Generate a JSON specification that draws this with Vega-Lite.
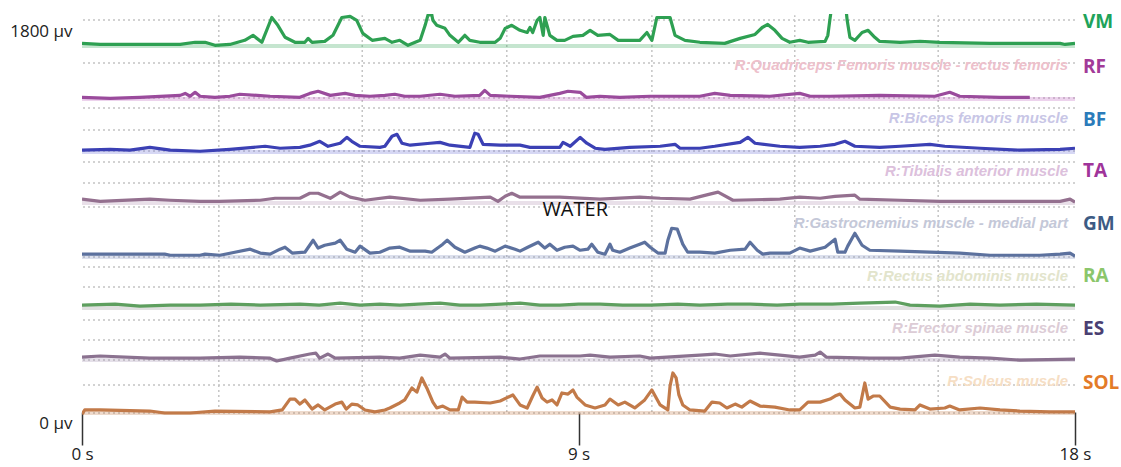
{
  "$schema": "https://vega.github.io/schema/vega-lite/v6.json",
  "autosize": {"type": "none"},
  "width": 993,
  "height": 409,
  "padding": {"left": 82, "top": 14, "right": 46, "bottom": 44},
  "background": "white",
  "config": {"view": {"stroke": null}},
  "datasets": {
    "hgrid": [{"v":1852},{"v":1655},{"v":1494},{"v":1448},{"v":1347},{"v":1250},{"v":1200},{"v":1103},{"v":993},{"v":763},{"v":717},{"v":625},{"v":473},{"v":382},{"v":290},{"v":175},{"v":46}],
    "vgrid": [{"t":2.48},{"t":5.08},{"t":7.70},{"t":10.33},{"t":12.92},{"t":15.52}],
    "base": [{"ch":"VM","v":1733},{"ch":"RF","v":1489},{"ch":"BF","v":1246},{"ch":"TA","v":1011},{"ch":"GM","v":763},{"ch":"RA","v":529},{"ch":"ES","v":290},{"ch":"SOL","v":46}],
    "names": [
      {"ch":"RF","name":"R:Quadriceps Femoris muscle - rectus femoris","v":1644},
      {"ch":"BF","name":"R:Biceps femoris muscle","v":1401},
      {"ch":"TA","name":"R:Tibialis anterior muscle","v":1157},
      {"ch":"GM","name":"R:Gastrocnemius muscle - medial part","v":918},
      {"ch":"RA","name":"R:Rectus abdominis muscle","v":675},
      {"ch":"ES","name":"R:Erector spinae muscle","v":436},
      {"ch":"SOL","name":"R:Soleus muscle","v":193}
    ],
    "labels": [
      {"ch":"VM","v":1843},{"ch":"RF","v":1636},{"ch":"BF","v":1391},{"ch":"TA","v":1157},
      {"ch":"GM","v":914},{"ch":"RA","v":675},{"ch":"ES","v":432},{"ch":"SOL","v":184}
    ],
    "note": [{"t":8.94,"v":978,"text":"WATER"}],
    "emg": [
      {"ch":"VM","t":0,"v":1745},{"ch":"VM","t":0.33,"v":1740},{"ch":"VM","t":1.78,"v":1740},{"ch":"VM","t":2.05,"v":1750},{"ch":"VM","t":2.23,"v":1750},{"ch":"VM","t":2.41,"v":1736},{"ch":"VM","t":2.68,"v":1740},{"ch":"VM","t":2.95,"v":1759},{"ch":"VM","t":3.10,"v":1782},{"ch":"VM","t":3.26,"v":1750},{"ch":"VM","t":3.44,"v":1864},{"ch":"VM","t":3.55,"v":1828},{"ch":"VM","t":3.68,"v":1773},{"ch":"VM","t":3.86,"v":1750},{"ch":"VM","t":4.04,"v":1750},{"ch":"VM","t":4.10,"v":1768},{"ch":"VM","t":4.17,"v":1750},{"ch":"VM","t":4.40,"v":1754},{"ch":"VM","t":4.55,"v":1782},{"ch":"VM","t":4.71,"v":1864},{"ch":"VM","t":4.86,"v":1869},{"ch":"VM","t":4.98,"v":1851},{"ch":"VM","t":5.09,"v":1791},{"ch":"VM","t":5.26,"v":1759},{"ch":"VM","t":5.49,"v":1768},{"ch":"VM","t":5.62,"v":1750},{"ch":"VM","t":5.76,"v":1759},{"ch":"VM","t":5.91,"v":1736},{"ch":"VM","t":6.04,"v":1750},{"ch":"VM","t":6.13,"v":1759},{"ch":"VM","t":6.22,"v":1828},{"ch":"VM","t":6.27,"v":1874},{"ch":"VM","t":6.34,"v":1878},{"ch":"VM","t":6.36,"v":1851},{"ch":"VM","t":6.43,"v":1828},{"ch":"VM","t":6.58,"v":1814},{"ch":"VM","t":6.67,"v":1782},{"ch":"VM","t":6.82,"v":1750},{"ch":"VM","t":6.94,"v":1782},{"ch":"VM","t":7.03,"v":1759},{"ch":"VM","t":7.21,"v":1750},{"ch":"VM","t":7.49,"v":1750},{"ch":"VM","t":7.58,"v":1768},{"ch":"VM","t":7.67,"v":1814},{"ch":"VM","t":7.79,"v":1828},{"ch":"VM","t":7.94,"v":1805},{"ch":"VM","t":8.07,"v":1795},{"ch":"VM","t":8.12,"v":1818},{"ch":"VM","t":8.17,"v":1795},{"ch":"VM","t":8.25,"v":1851},{"ch":"VM","t":8.30,"v":1864},{"ch":"VM","t":8.36,"v":1782},{"ch":"VM","t":8.39,"v":1864},{"ch":"VM","t":8.48,"v":1782},{"ch":"VM","t":8.61,"v":1759},{"ch":"VM","t":8.75,"v":1759},{"ch":"VM","t":8.90,"v":1777},{"ch":"VM","t":9.08,"v":1782},{"ch":"VM","t":9.21,"v":1805},{"ch":"VM","t":9.35,"v":1782},{"ch":"VM","t":9.57,"v":1786},{"ch":"VM","t":9.72,"v":1759},{"ch":"VM","t":10.11,"v":1759},{"ch":"VM","t":10.24,"v":1795},{"ch":"VM","t":10.33,"v":1759},{"ch":"VM","t":10.42,"v":1864},{"ch":"VM","t":10.66,"v":1864},{"ch":"VM","t":10.75,"v":1782},{"ch":"VM","t":10.93,"v":1759},{"ch":"VM","t":11.20,"v":1750},{"ch":"VM","t":11.65,"v":1745},{"ch":"VM","t":11.93,"v":1768},{"ch":"VM","t":12.20,"v":1786},{"ch":"VM","t":12.33,"v":1818},{"ch":"VM","t":12.43,"v":1832},{"ch":"VM","t":12.56,"v":1805},{"ch":"VM","t":12.69,"v":1768},{"ch":"VM","t":12.83,"v":1750},{"ch":"VM","t":13.01,"v":1759},{"ch":"VM","t":13.16,"v":1750},{"ch":"VM","t":13.47,"v":1754},{"ch":"VM","t":13.52,"v":1782},{"ch":"VM","t":13.56,"v":1860},{"ch":"VM","t":13.61,"v":1950},{"ch":"VM","t":13.83,"v":1950},{"ch":"VM","t":13.87,"v":1851},{"ch":"VM","t":13.92,"v":1773},{"ch":"VM","t":14.01,"v":1759},{"ch":"VM","t":14.14,"v":1795},{"ch":"VM","t":14.25,"v":1805},{"ch":"VM","t":14.37,"v":1773},{"ch":"VM","t":14.46,"v":1754},{"ch":"VM","t":14.83,"v":1750},{"ch":"VM","t":15.19,"v":1754},{"ch":"VM","t":15.55,"v":1750},{"ch":"VM","t":16.46,"v":1745},{"ch":"VM","t":17.36,"v":1745},{"ch":"VM","t":17.73,"v":1745},{"ch":"VM","t":17.82,"v":1740},{"ch":"VM","t":18.0,"v":1745},

      {"ch":"RF","t":0,"v":1497},{"ch":"RF","t":0.51,"v":1492},{"ch":"RF","t":1.05,"v":1497},{"ch":"RF","t":1.78,"v":1506},{"ch":"RF","t":1.87,"v":1515},{"ch":"RF","t":1.96,"v":1502},{"ch":"RF","t":2.05,"v":1520},{"ch":"RF","t":2.14,"v":1502},{"ch":"RF","t":2.41,"v":1497},{"ch":"RF","t":2.68,"v":1502},{"ch":"RF","t":2.86,"v":1511},{"ch":"RF","t":3.41,"v":1502},{"ch":"RF","t":3.95,"v":1497},{"ch":"RF","t":4.13,"v":1515},{"ch":"RF","t":4.28,"v":1525},{"ch":"RF","t":4.50,"v":1506},{"ch":"RF","t":4.77,"v":1515},{"ch":"RF","t":4.95,"v":1506},{"ch":"RF","t":5.22,"v":1502},{"ch":"RF","t":5.49,"v":1506},{"ch":"RF","t":5.67,"v":1511},{"ch":"RF","t":5.85,"v":1502},{"ch":"RF","t":6.13,"v":1502},{"ch":"RF","t":6.49,"v":1511},{"ch":"RF","t":6.76,"v":1502},{"ch":"RF","t":7.21,"v":1506},{"ch":"RF","t":7.30,"v":1529},{"ch":"RF","t":7.40,"v":1506},{"ch":"RF","t":7.76,"v":1502},{"ch":"RF","t":8.30,"v":1497},{"ch":"RF","t":8.66,"v":1515},{"ch":"RF","t":8.81,"v":1525},{"ch":"RF","t":9.03,"v":1520},{"ch":"RF","t":9.14,"v":1497},{"ch":"RF","t":9.39,"v":1502},{"ch":"RF","t":9.75,"v":1497},{"ch":"RF","t":10.30,"v":1502},{"ch":"RF","t":11.20,"v":1502},{"ch":"RF","t":11.47,"v":1515},{"ch":"RF","t":11.75,"v":1506},{"ch":"RF","t":12.47,"v":1502},{"ch":"RF","t":13.01,"v":1515},{"ch":"RF","t":13.20,"v":1502},{"ch":"RF","t":13.56,"v":1502},{"ch":"RF","t":14.46,"v":1506},{"ch":"RF","t":15.46,"v":1502},{"ch":"RF","t":15.73,"v":1520},{"ch":"RF","t":15.91,"v":1502},{"ch":"RF","t":16.64,"v":1497},{"ch":"RF","t":17.18,"v":1497},

      {"ch":"BF","t":0,"v":1254},{"ch":"BF","t":0.51,"v":1258},{"ch":"BF","t":0.87,"v":1254},{"ch":"BF","t":1.23,"v":1267},{"ch":"BF","t":1.60,"v":1254},{"ch":"BF","t":2.14,"v":1249},{"ch":"BF","t":2.68,"v":1258},{"ch":"BF","t":3.32,"v":1272},{"ch":"BF","t":3.59,"v":1263},{"ch":"BF","t":3.95,"v":1267},{"ch":"BF","t":4.13,"v":1277},{"ch":"BF","t":4.31,"v":1295},{"ch":"BF","t":4.46,"v":1272},{"ch":"BF","t":4.68,"v":1286},{"ch":"BF","t":4.80,"v":1313},{"ch":"BF","t":4.89,"v":1295},{"ch":"BF","t":5.04,"v":1272},{"ch":"BF","t":5.40,"v":1267},{"ch":"BF","t":5.49,"v":1272},{"ch":"BF","t":5.62,"v":1318},{"ch":"BF","t":5.71,"v":1327},{"ch":"BF","t":5.80,"v":1286},{"ch":"BF","t":5.95,"v":1277},{"ch":"BF","t":6.31,"v":1286},{"ch":"BF","t":6.49,"v":1290},{"ch":"BF","t":6.67,"v":1277},{"ch":"BF","t":7.03,"v":1267},{"ch":"BF","t":7.12,"v":1332},{"ch":"BF","t":7.18,"v":1327},{"ch":"BF","t":7.27,"v":1281},{"ch":"BF","t":7.58,"v":1277},{"ch":"BF","t":7.94,"v":1277},{"ch":"BF","t":8.12,"v":1267},{"ch":"BF","t":8.66,"v":1267},{"ch":"BF","t":8.72,"v":1290},{"ch":"BF","t":8.85,"v":1272},{"ch":"BF","t":9.03,"v":1313},{"ch":"BF","t":9.15,"v":1286},{"ch":"BF","t":9.30,"v":1263},{"ch":"BF","t":9.48,"v":1258},{"ch":"BF","t":9.93,"v":1267},{"ch":"BF","t":10.48,"v":1272},{"ch":"BF","t":10.75,"v":1281},{"ch":"BF","t":10.84,"v":1263},{"ch":"BF","t":11.20,"v":1263},{"ch":"BF","t":11.47,"v":1272},{"ch":"BF","t":11.93,"v":1290},{"ch":"BF","t":12.07,"v":1313},{"ch":"BF","t":12.20,"v":1286},{"ch":"BF","t":12.65,"v":1272},{"ch":"BF","t":13.01,"v":1267},{"ch":"BF","t":13.38,"v":1272},{"ch":"BF","t":13.65,"v":1281},{"ch":"BF","t":13.83,"v":1295},{"ch":"BF","t":14.01,"v":1272},{"ch":"BF","t":14.46,"v":1267},{"ch":"BF","t":14.83,"v":1272},{"ch":"BF","t":15.37,"v":1281},{"ch":"BF","t":15.64,"v":1272},{"ch":"BF","t":16.28,"v":1263},{"ch":"BF","t":17.00,"v":1254},{"ch":"BF","t":17.73,"v":1258},{"ch":"BF","t":18.0,"v":1263},

      {"ch":"TA","t":0,"v":1029},{"ch":"TA","t":0.33,"v":1019},{"ch":"TA","t":1.23,"v":1029},{"ch":"TA","t":1.60,"v":1024},{"ch":"TA","t":2.14,"v":1019},{"ch":"TA","t":2.50,"v":1019},{"ch":"TA","t":3.23,"v":1024},{"ch":"TA","t":3.50,"v":1033},{"ch":"TA","t":3.95,"v":1033},{"ch":"TA","t":4.13,"v":1056},{"ch":"TA","t":4.28,"v":1056},{"ch":"TA","t":4.50,"v":1033},{"ch":"TA","t":4.68,"v":1061},{"ch":"TA","t":4.86,"v":1038},{"ch":"TA","t":5.13,"v":1024},{"ch":"TA","t":5.58,"v":1038},{"ch":"TA","t":6.13,"v":1024},{"ch":"TA","t":6.67,"v":1029},{"ch":"TA","t":7.40,"v":1038},{"ch":"TA","t":7.54,"v":1019},{"ch":"TA","t":7.67,"v":1042},{"ch":"TA","t":7.79,"v":1056},{"ch":"TA","t":7.94,"v":1038},{"ch":"TA","t":8.66,"v":1038},{"ch":"TA","t":9.39,"v":1029},{"ch":"TA","t":10.11,"v":1038},{"ch":"TA","t":10.48,"v":1033},{"ch":"TA","t":11.02,"v":1029},{"ch":"TA","t":11.38,"v":1052},{"ch":"TA","t":11.53,"v":1061},{"ch":"TA","t":11.80,"v":1024},{"ch":"TA","t":12.65,"v":1029},{"ch":"TA","t":13.01,"v":1038},{"ch":"TA","t":13.38,"v":1033},{"ch":"TA","t":13.65,"v":1042},{"ch":"TA","t":14.01,"v":1047},{"ch":"TA","t":14.10,"v":1029},{"ch":"TA","t":14.83,"v":1024},{"ch":"TA","t":15.55,"v":1019},{"ch":"TA","t":16.64,"v":1019},{"ch":"TA","t":17.73,"v":1019},{"ch":"TA","t":17.91,"v":1029},{"ch":"TA","t":18.0,"v":1015},

      {"ch":"GM","t":0,"v":776},{"ch":"GM","t":1.50,"v":776},{"ch":"GM","t":1.60,"v":771},{"ch":"GM","t":2.14,"v":771},{"ch":"GM","t":2.23,"v":776},{"ch":"GM","t":2.50,"v":771},{"ch":"GM","t":2.77,"v":785},{"ch":"GM","t":3.05,"v":799},{"ch":"GM","t":3.23,"v":781},{"ch":"GM","t":3.41,"v":776},{"ch":"GM","t":3.59,"v":799},{"ch":"GM","t":3.68,"v":808},{"ch":"GM","t":3.81,"v":781},{"ch":"GM","t":4.04,"v":785},{"ch":"GM","t":4.19,"v":840},{"ch":"GM","t":4.28,"v":804},{"ch":"GM","t":4.40,"v":817},{"ch":"GM","t":4.59,"v":827},{"ch":"GM","t":4.68,"v":840},{"ch":"GM","t":4.80,"v":799},{"ch":"GM","t":4.95,"v":785},{"ch":"GM","t":5.04,"v":813},{"ch":"GM","t":5.22,"v":781},{"ch":"GM","t":5.40,"v":785},{"ch":"GM","t":5.58,"v":804},{"ch":"GM","t":5.76,"v":808},{"ch":"GM","t":5.95,"v":790},{"ch":"GM","t":6.22,"v":790},{"ch":"GM","t":6.34,"v":785},{"ch":"GM","t":6.54,"v":822},{"ch":"GM","t":6.62,"v":840},{"ch":"GM","t":6.76,"v":808},{"ch":"GM","t":6.94,"v":785},{"ch":"GM","t":7.12,"v":804},{"ch":"GM","t":7.21,"v":813},{"ch":"GM","t":7.34,"v":804},{"ch":"GM","t":7.49,"v":790},{"ch":"GM","t":7.67,"v":813},{"ch":"GM","t":7.85,"v":799},{"ch":"GM","t":7.94,"v":790},{"ch":"GM","t":8.08,"v":808},{"ch":"GM","t":8.27,"v":831},{"ch":"GM","t":8.39,"v":804},{"ch":"GM","t":8.48,"v":822},{"ch":"GM","t":8.61,"v":794},{"ch":"GM","t":8.75,"v":808},{"ch":"GM","t":8.90,"v":813},{"ch":"GM","t":9.03,"v":794},{"ch":"GM","t":9.17,"v":799},{"ch":"GM","t":9.24,"v":822},{"ch":"GM","t":9.35,"v":785},{"ch":"GM","t":9.48,"v":776},{"ch":"GM","t":9.57,"v":822},{"ch":"GM","t":9.62,"v":794},{"ch":"GM","t":9.75,"v":785},{"ch":"GM","t":9.93,"v":804},{"ch":"GM","t":10.11,"v":822},{"ch":"GM","t":10.20,"v":831},{"ch":"GM","t":10.30,"v":808},{"ch":"GM","t":10.44,"v":781},{"ch":"GM","t":10.57,"v":781},{"ch":"GM","t":10.62,"v":840},{"ch":"GM","t":10.69,"v":895},{"ch":"GM","t":10.79,"v":891},{"ch":"GM","t":10.89,"v":822},{"ch":"GM","t":10.98,"v":785},{"ch":"GM","t":11.20,"v":785},{"ch":"GM","t":11.47,"v":781},{"ch":"GM","t":11.75,"v":794},{"ch":"GM","t":12.02,"v":799},{"ch":"GM","t":12.11,"v":831},{"ch":"GM","t":12.24,"v":794},{"ch":"GM","t":12.34,"v":776},{"ch":"GM","t":12.47,"v":781},{"ch":"GM","t":12.83,"v":781},{"ch":"GM","t":13.01,"v":804},{"ch":"GM","t":13.20,"v":790},{"ch":"GM","t":13.47,"v":808},{"ch":"GM","t":13.65,"v":845},{"ch":"GM","t":13.70,"v":785},{"ch":"GM","t":13.83,"v":785},{"ch":"GM","t":13.88,"v":813},{"ch":"GM","t":14.01,"v":872},{"ch":"GM","t":14.14,"v":817},{"ch":"GM","t":14.28,"v":794},{"ch":"GM","t":14.83,"v":790},{"ch":"GM","t":15.37,"v":785},{"ch":"GM","t":15.91,"v":781},{"ch":"GM","t":16.46,"v":771},{"ch":"GM","t":17.36,"v":771},{"ch":"GM","t":17.73,"v":776},{"ch":"GM","t":17.91,"v":781},{"ch":"GM","t":18.0,"v":767},

      {"ch":"RA","t":0,"v":542},{"ch":"RA","t":0.6,"v":546},{"ch":"RA","t":1.05,"v":537},{"ch":"RA","t":1.6,"v":542},{"ch":"RA","t":2.14,"v":542},{"ch":"RA","t":2.7,"v":546},{"ch":"RA","t":3.23,"v":542},{"ch":"RA","t":3.95,"v":546},{"ch":"RA","t":4.3,"v":542},{"ch":"RA","t":4.68,"v":551},{"ch":"RA","t":5.04,"v":542},{"ch":"RA","t":5.4,"v":546},{"ch":"RA","t":5.76,"v":542},{"ch":"RA","t":6.1,"v":546},{"ch":"RA","t":6.49,"v":551},{"ch":"RA","t":6.85,"v":542},{"ch":"RA","t":7.21,"v":542},{"ch":"RA","t":7.6,"v":546},{"ch":"RA","t":7.94,"v":551},{"ch":"RA","t":8.3,"v":542},{"ch":"RA","t":8.66,"v":542},{"ch":"RA","t":9.0,"v":546},{"ch":"RA","t":9.39,"v":546},{"ch":"RA","t":9.8,"v":542},{"ch":"RA","t":10.30,"v":542},{"ch":"RA","t":10.8,"v":546},{"ch":"RA","t":11.20,"v":542},{"ch":"RA","t":11.7,"v":546},{"ch":"RA","t":12.11,"v":546},{"ch":"RA","t":12.6,"v":542},{"ch":"RA","t":13.01,"v":546},{"ch":"RA","t":13.6,"v":546},{"ch":"RA","t":14.10,"v":551},{"ch":"RA","t":14.74,"v":556},{"ch":"RA","t":15.01,"v":542},{"ch":"RA","t":15.55,"v":537},{"ch":"RA","t":16.10,"v":546},{"ch":"RA","t":16.64,"v":542},{"ch":"RA","t":17.3,"v":546},{"ch":"RA","t":18.0,"v":542},

      {"ch":"ES","t":0,"v":303},{"ch":"ES","t":0.33,"v":308},{"ch":"ES","t":1.23,"v":298},{"ch":"ES","t":2.14,"v":298},{"ch":"ES","t":2.86,"v":303},{"ch":"ES","t":3.41,"v":298},{"ch":"ES","t":3.53,"v":285},{"ch":"ES","t":3.77,"v":298},{"ch":"ES","t":4.13,"v":317},{"ch":"ES","t":4.24,"v":321},{"ch":"ES","t":4.31,"v":298},{"ch":"ES","t":4.46,"v":317},{"ch":"ES","t":4.59,"v":298},{"ch":"ES","t":5.40,"v":303},{"ch":"ES","t":5.76,"v":298},{"ch":"ES","t":6.13,"v":312},{"ch":"ES","t":6.49,"v":303},{"ch":"ES","t":6.58,"v":317},{"ch":"ES","t":6.67,"v":298},{"ch":"ES","t":7.58,"v":303},{"ch":"ES","t":7.94,"v":294},{"ch":"ES","t":8.30,"v":308},{"ch":"ES","t":9.03,"v":308},{"ch":"ES","t":9.21,"v":312},{"ch":"ES","t":9.57,"v":303},{"ch":"ES","t":10.11,"v":308},{"ch":"ES","t":10.30,"v":298},{"ch":"ES","t":11.20,"v":312},{"ch":"ES","t":11.47,"v":317},{"ch":"ES","t":11.75,"v":308},{"ch":"ES","t":12.29,"v":321},{"ch":"ES","t":12.65,"v":312},{"ch":"ES","t":13.01,"v":303},{"ch":"ES","t":13.29,"v":312},{"ch":"ES","t":13.38,"v":326},{"ch":"ES","t":13.49,"v":303},{"ch":"ES","t":14.28,"v":298},{"ch":"ES","t":14.83,"v":298},{"ch":"ES","t":15.46,"v":312},{"ch":"ES","t":15.91,"v":303},{"ch":"ES","t":16.46,"v":298},{"ch":"ES","t":17.00,"v":289},{"ch":"ES","t":18.0,"v":294},

      {"ch":"SOL","t":0,"v":41},{"ch":"SOL","t":0.05,"v":60},{"ch":"SOL","t":0.33,"v":60},{"ch":"SOL","t":1.23,"v":55},{"ch":"SOL","t":1.50,"v":46},{"ch":"SOL","t":1.96,"v":46},{"ch":"SOL","t":2.41,"v":55},{"ch":"SOL","t":3.41,"v":51},{"ch":"SOL","t":3.63,"v":60},{"ch":"SOL","t":3.77,"v":110},{"ch":"SOL","t":3.86,"v":110},{"ch":"SOL","t":3.95,"v":87},{"ch":"SOL","t":4.04,"v":106},{"ch":"SOL","t":4.17,"v":64},{"ch":"SOL","t":4.28,"v":83},{"ch":"SOL","t":4.40,"v":60},{"ch":"SOL","t":4.59,"v":87},{"ch":"SOL","t":4.71,"v":96},{"ch":"SOL","t":4.79,"v":64},{"ch":"SOL","t":4.89,"v":87},{"ch":"SOL","t":5.00,"v":83},{"ch":"SOL","t":5.13,"v":60},{"ch":"SOL","t":5.31,"v":51},{"ch":"SOL","t":5.49,"v":60},{"ch":"SOL","t":5.58,"v":69},{"ch":"SOL","t":5.76,"v":92},{"ch":"SOL","t":5.85,"v":106},{"ch":"SOL","t":5.98,"v":161},{"ch":"SOL","t":6.07,"v":142},{"ch":"SOL","t":6.16,"v":207},{"ch":"SOL","t":6.25,"v":161},{"ch":"SOL","t":6.36,"v":96},{"ch":"SOL","t":6.43,"v":69},{"ch":"SOL","t":6.54,"v":78},{"ch":"SOL","t":6.67,"v":60},{"ch":"SOL","t":6.82,"v":60},{"ch":"SOL","t":6.89,"v":119},{"ch":"SOL","t":6.98,"v":96},{"ch":"SOL","t":7.12,"v":96},{"ch":"SOL","t":7.40,"v":92},{"ch":"SOL","t":7.58,"v":101},{"ch":"SOL","t":7.81,"v":129},{"ch":"SOL","t":7.94,"v":83},{"ch":"SOL","t":8.07,"v":69},{"ch":"SOL","t":8.17,"v":124},{"ch":"SOL","t":8.25,"v":165},{"ch":"SOL","t":8.34,"v":115},{"ch":"SOL","t":8.43,"v":96},{"ch":"SOL","t":8.52,"v":106},{"ch":"SOL","t":8.61,"v":83},{"ch":"SOL","t":8.70,"v":138},{"ch":"SOL","t":8.81,"v":133},{"ch":"SOL","t":8.90,"v":152},{"ch":"SOL","t":8.97,"v":119},{"ch":"SOL","t":9.12,"v":83},{"ch":"SOL","t":9.30,"v":69},{"ch":"SOL","t":9.48,"v":83},{"ch":"SOL","t":9.57,"v":110},{"ch":"SOL","t":9.72,"v":83},{"ch":"SOL","t":9.84,"v":96},{"ch":"SOL","t":10.02,"v":69},{"ch":"SOL","t":10.20,"v":106},{"ch":"SOL","t":10.33,"v":152},{"ch":"SOL","t":10.48,"v":83},{"ch":"SOL","t":10.62,"v":60},{"ch":"SOL","t":10.66,"v":170},{"ch":"SOL","t":10.71,"v":230},{"ch":"SOL","t":10.77,"v":207},{"ch":"SOL","t":10.82,"v":129},{"ch":"SOL","t":10.89,"v":83},{"ch":"SOL","t":11.02,"v":60},{"ch":"SOL","t":11.29,"v":55},{"ch":"SOL","t":11.42,"v":96},{"ch":"SOL","t":11.56,"v":92},{"ch":"SOL","t":11.69,"v":69},{"ch":"SOL","t":11.84,"v":87},{"ch":"SOL","t":11.96,"v":73},{"ch":"SOL","t":12.11,"v":101},{"ch":"SOL","t":12.29,"v":78},{"ch":"SOL","t":12.56,"v":73},{"ch":"SOL","t":12.83,"v":60},{"ch":"SOL","t":13.01,"v":60},{"ch":"SOL","t":13.16,"v":96},{"ch":"SOL","t":13.38,"v":96},{"ch":"SOL","t":13.56,"v":110},{"ch":"SOL","t":13.65,"v":124},{"ch":"SOL","t":13.74,"v":133},{"ch":"SOL","t":13.83,"v":106},{"ch":"SOL","t":14.01,"v":69},{"ch":"SOL","t":14.10,"v":73},{"ch":"SOL","t":14.19,"v":184},{"ch":"SOL","t":14.25,"v":110},{"ch":"SOL","t":14.34,"v":124},{"ch":"SOL","t":14.46,"v":124},{"ch":"SOL","t":14.65,"v":73},{"ch":"SOL","t":14.83,"v":64},{"ch":"SOL","t":15.10,"v":60},{"ch":"SOL","t":15.19,"v":83},{"ch":"SOL","t":15.37,"v":64},{"ch":"SOL","t":15.64,"v":69},{"ch":"SOL","t":15.73,"v":78},{"ch":"SOL","t":15.91,"v":60},{"ch":"SOL","t":16.28,"v":69},{"ch":"SOL","t":16.64,"v":60},{"ch":"SOL","t":17.00,"v":55},{"ch":"SOL","t":17.55,"v":51},{"ch":"SOL","t":18.0,"v":51}
    ]
  },
  "resolve": {"scale": {"color": "independent"}},
  "encoding": {
    "x": {"type": "quantitative", "scale": {"domain": [0, 18], "nice": false, "zero": false},
      "axis": {"values": [0, 9, 18], "labelExpr": "datum.value + ' s'", "title": null, "grid": false, "domain": false,
        "ticks": true, "tickSize": 33, "tickColor": "#333333", "tickWidth": 1.5, "offset": -11,
        "labelFlush": false, "labelOverlap": false, "labelFont": "Open Sans", "labelFontSize": 17, "labelColor": "#222222", "labelPadding": 1}},
    "y": {"type": "quantitative", "scale": {"domain": [0, 1880], "nice": false, "zero": false},
      "axis": {"values": [0, 1800], "labelExpr": "datum.value == 0 ? '0 µv' : '1800 µv'", "title": null, "grid": false, "domain": false,
        "ticks": false, "labelPadding": 10, "labelFont": "Open Sans", "labelFontSize": 17, "labelColor": "#222222"}}
  },
  "layer": [
    {"data": {"name": "hgrid"}, "mark": {"type": "rule", "color": "#c4c4c4", "strokeDash": [2, 3], "strokeWidth": 1.5},
      "encoding": {"y": {"field": "v", "type": "quantitative"}}},
    {"data": {"name": "vgrid"}, "mark": {"type": "rule", "color": "#c4c4c4", "strokeDash": [2, 3], "strokeWidth": 1.5},
      "encoding": {"x": {"field": "t", "type": "quantitative"}, "y": {"datum": 51, "type": "quantitative"}, "y2": {"datum": 1874}}},
    {"data": {"name": "base"}, "mark": {"type": "rule", "strokeWidth": 4, "opacity": 0.28},
      "encoding": {"y": {"field": "v", "type": "quantitative"},
        "color": {"field": "ch", "type": "nominal", "legend": null,
          "scale": {"domain": ["VM","RF","BF","TA","GM","RA","ES","SOL"], "range": ["#2EA052","#C060C0","#6A70D8","#B090B0","#8090C0","#909090","#A090B0","#C27A49"]}}}},
    {"data": {"name": "emg"}, "mark": {"type": "line", "strokeWidth": 3.2, "clip": true, "strokeJoin": "round"},
      "encoding": {"x": {"field": "t", "type": "quantitative"}, "y": {"field": "v", "type": "quantitative"},
        "color": {"field": "ch", "type": "nominal", "legend": null,
          "scale": {"domain": ["VM","RF","BF","TA","GM","RA","ES","SOL"], "range": ["#2EA052","#9A4B9C","#3B40B4","#94708F","#5C719E","#5E9F5F","#8B7290","#C27A49"]}}}},
    {"data": {"name": "names"}, "mark": {"type": "text", "align": "right", "baseline": "middle", "dx": -7, "font": "Liberation Sans", "fontStyle": "italic", "fontWeight": "bold", "fontSize": 15},
      "encoding": {"x": {"datum": 18, "type": "quantitative"}, "y": {"field": "v", "type": "quantitative"}, "text": {"field": "name"},
        "color": {"field": "ch", "type": "nominal", "legend": null,
          "scale": {"domain": ["RF","BF","TA","GM","RA","ES","SOL"], "range": ["#EDC0CB","#C8C6E6","#DCC0DC","#C4C8D8","#E2E4CC","#DCCCD6","#F6DEC4"]}}}},
    {"data": {"name": "labels"}, "mark": {"type": "text", "align": "left", "baseline": "middle", "dx": 8, "font": "Open Sans", "fontWeight": "bold", "fontSize": 19},
      "encoding": {"x": {"datum": 18, "type": "quantitative"}, "y": {"field": "v", "type": "quantitative"}, "text": {"field": "ch"},
        "color": {"field": "ch", "type": "nominal", "legend": null,
          "scale": {"domain": ["VM","RF","BF","TA","GM","RA","ES","SOL"], "range": ["#20A35A","#A23A98","#2B7BBA","#A0349A","#3D5B84","#8BC66B","#4B3F72","#E37B28"]}}}},
    {"data": {"name": "note"}, "mark": {"type": "text", "align": "center", "baseline": "middle", "font": "Open Sans", "fontSize": 20, "color": "#111111"},
      "encoding": {"x": {"field": "t", "type": "quantitative"}, "y": {"field": "v", "type": "quantitative"}, "text": {"field": "text"}}}
  ]
}
